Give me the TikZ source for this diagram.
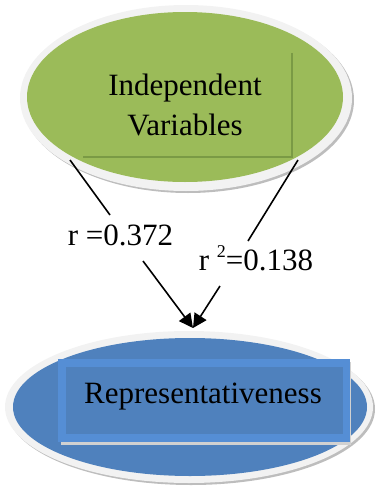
\documentclass[tikz,border=0pt]{standalone}
\usepackage{fontspec}
\setmainfont{Liberation Serif}
\usetikzlibrary{shapes.geometric,arrows.meta}
\definecolor{grn}{HTML}{9BBB59}
\definecolor{grndark}{HTML}{7A9A45}
\definecolor{blu}{HTML}{4F81BD}
\definecolor{blulight}{HTML}{558ED5}
\definecolor{ring}{HTML}{F2F2F2}
\definecolor{shade}{HTML}{BDBDBD}
\tikzset{
  ell/.style={ellipse, inner sep=0pt},
  lbl/.style={font=\fontsize{31}{40}\selectfont, inner sep=0pt, anchor=base},
  conn/.style={line width=1.6pt, black},
  arr/.style={conn, -{Triangle[length=14pt,width=14pt]}}
}
\begin{document}
\begin{tikzpicture}[x=1pt,y=-1pt]
\useasboundingbox (0,0) rectangle (375,490);
% top ellipse
\node[ell, fill=shade, minimum width=332pt, minimum height=186pt] (topsh) at (188,100) {};
\node[ell, fill=ring, minimum width=332pt, minimum height=186pt] (topring) at (186,98) {};
\node[ell, fill=grn, minimum width=316pt, minimum height=170pt] (topell) at (185,97) {};
\node[inner sep=0pt, minimum width=209pt, minimum height=104pt] (toprect) at (187.5,105) {};
\draw[grndark, line width=2pt] (toprect.north east) -- (toprect.south east) -- (toprect.south west);
\node[lbl] (toptext1) at (185,95) {Independent};
\node[lbl] (toptext2) at (185,135) {Variables};
% bottom ellipse
\node[ell, fill=shade, minimum width=368pt, minimum height=152pt] (botsh) at (191,409) {};
\node[ell, fill=ring, minimum width=368pt, minimum height=152pt] (botring) at (189,407) {};
\node[ell, fill=blu, minimum width=354pt, minimum height=138pt] (botell) at (190,407) {};
\node[fill=shade!70, inner sep=0pt, minimum width=290pt, minimum height=83pt] (botrectsh) at (205.5,403.5) {};
\node[fill=blulight, inner sep=0pt, minimum width=292pt, minimum height=83pt] (botrect) at (204,400.5) {};
\node[fill=blu, inner sep=0pt, minimum width=277pt, minimum height=67pt] (botrectin) at (204.5,400.5) {};
\node[lbl] (bottext) at (203,403) {Representativeness};
% labels
\node[lbl] (l1) at (120.5,245) {r =0.372};
\node[lbl] (l2) at (256,270) {r \raisebox{13pt}{\fontsize{18}{18}\selectfont 2}=0.138};
% connectors
\coordinate (s1) at (70,160);
\coordinate (e1) at (110,215);
\coordinate (s2) at (143,261);
\coordinate (tip) at (193,328);
\coordinate (s3) at (298,160);
\coordinate (e3) at (248,241);
\coordinate (s4) at (220,286);
\draw[conn] (s1) -- (e1);
\draw[arr] (s2) -- (tip);
\draw[conn] (s3) -- (e3);
\draw[arr] (s4) -- (tip);
\end{tikzpicture}
\end{document}
